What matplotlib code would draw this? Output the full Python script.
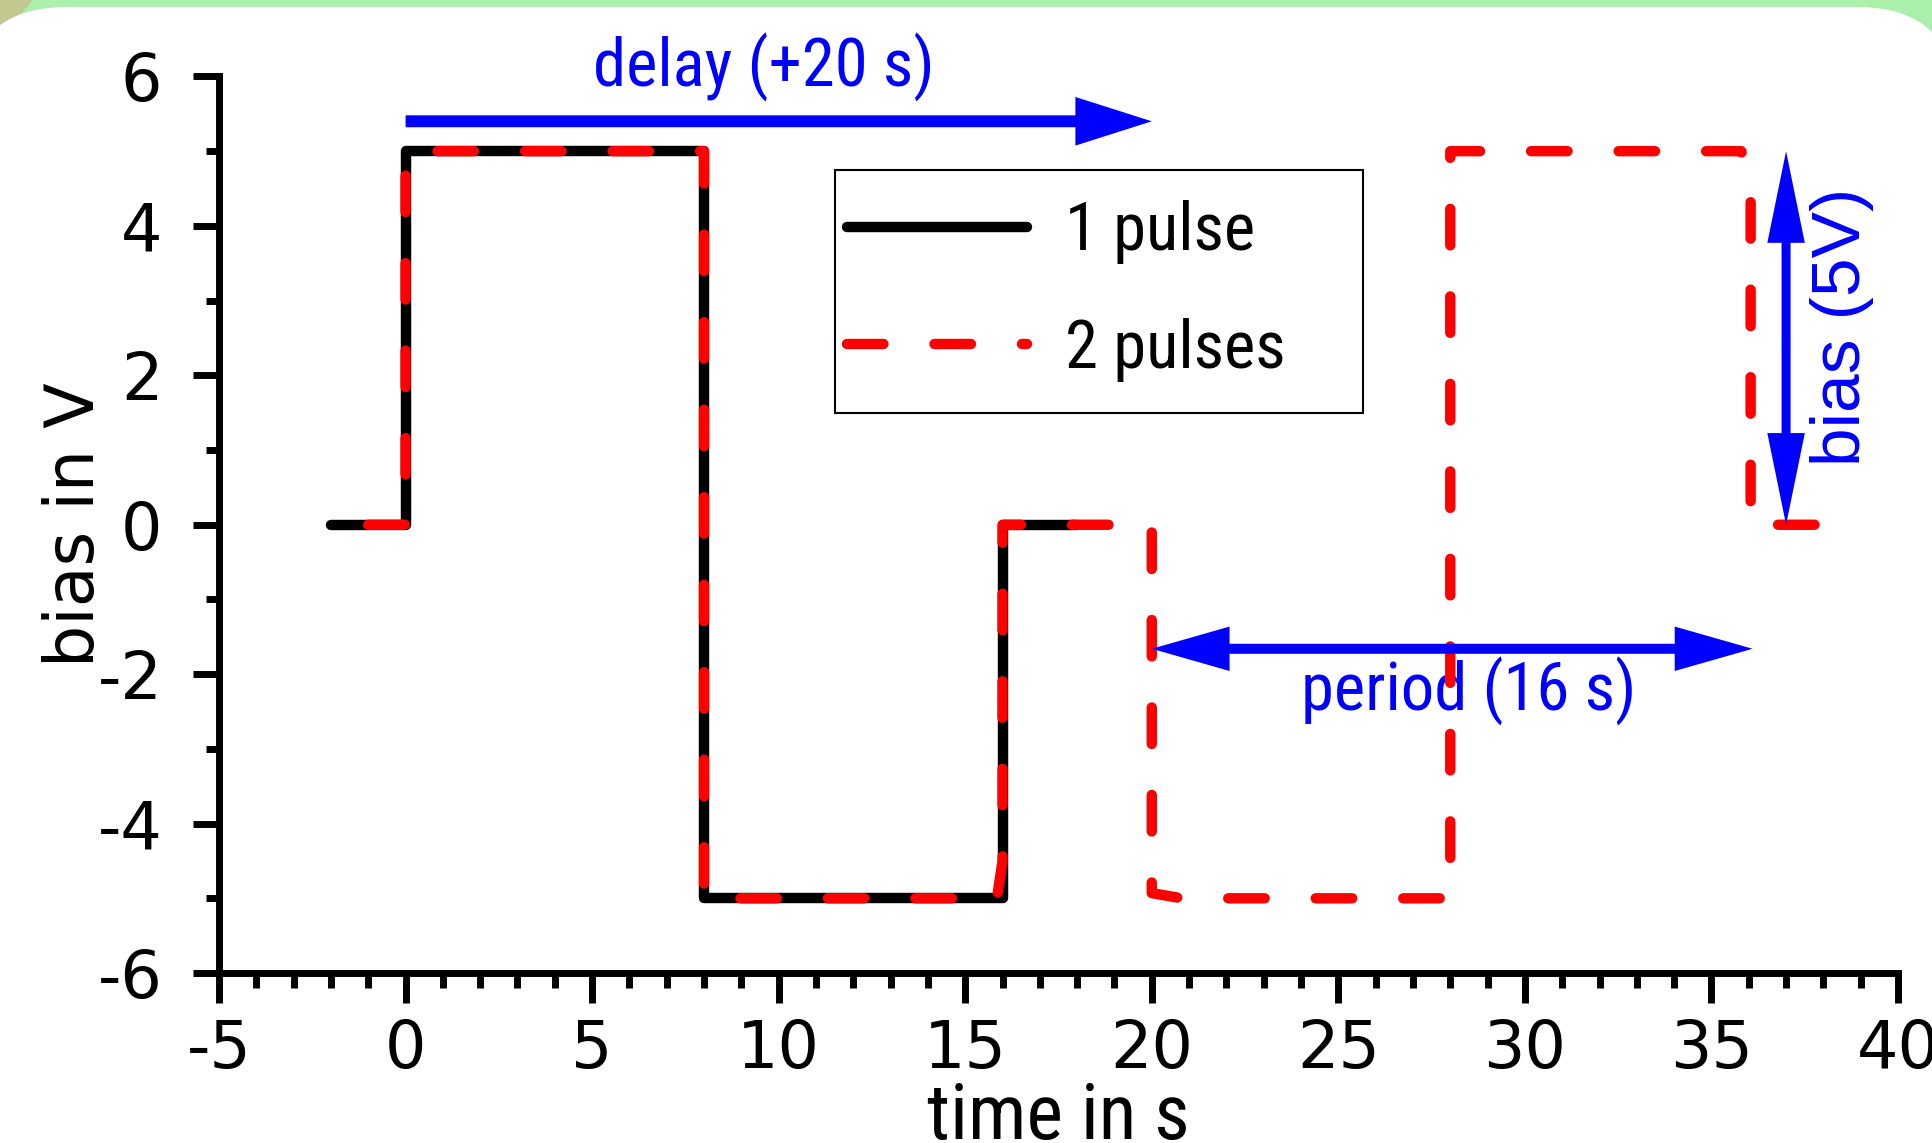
import matplotlib
matplotlib.use('Agg')
import matplotlib.pyplot as plt
from matplotlib.patches import FancyArrowPatch, FancyBboxPatch, Circle, Rectangle
from matplotlib.ticker import MultipleLocator

plt.rcParams['axes.unicode_minus'] = False

# 1 pulse: +5 V for 8 s, then -5 V for 8 s
t1 = [-2, 0, 0, 8, 8, 16, 16, 18]
v1 = [0, 0, 5, 5, -5, -5, 0, 0]

# 2 pulses: second (inverted) pulse starts 20 s later
t2 = [-1, 0, 0, 0.8, 8, 8, 15.85, 16, 16, 20, 20, 20.8, 28, 28, 35.8, 36.05, 36.05, 38]
v2 = [0, 0, 4.92, 5, 5, -5, -5, -4.5, 0, 0, -4.93, -5, -5, 5, 5, 4.55, 0, 0]

labels = ['1 pulse', '2 pulses']
xticks = [-5, 0, 5, 10, 15, 20, 25, 30, 35, 40]
yticks = [-6, -4, -2, 0, 2, 4, 6]

NARROW = ['Roboto Condensed', 'Liberation Sans', 'DejaVu Sans']
LW = 7.5

fig = plt.figure(figsize=(19.33, 11.43), dpi=100, facecolor='#aaefaa')
# page background: khaki corner + white rounded card
fig.add_artist(Circle((-0.6, 12.03), 1.1, transform=fig.dpi_scale_trans,
                      facecolor='#c2c890', edgecolor='none', zorder=-3))
fig.add_artist(FancyBboxPatch((-0.33, -1.0), 19.9, 12.36,
                              boxstyle='round,pad=0,rounding_size=1.0',
                              transform=fig.dpi_scale_trans,
                              facecolor='white', edgecolor='none', zorder=-2))

ax = fig.add_axes([0.1133, 0.1487, 0.8686, 0.7844])
ax.patch.set_visible(False)

ax.plot(t1, v1, color='black', lw=LW, solid_capstyle='round',
        solid_joinstyle='round', label=labels[0], zorder=3)
ax.plot(t2, v2, color='red', lw=LW, ls=(0, (3.5, 4.9)), dash_capstyle='round',
        dash_joinstyle='round', label=labels[1], zorder=4)

ax.set_xlim(-5, 40)
ax.set_ylim(-6, 6)
ax.set_xticks(xticks)
ax.set_yticks(yticks)
ax.xaxis.set_minor_locator(MultipleLocator(1))
ax.yaxis.set_minor_locator(MultipleLocator(1))

for s in ['top', 'right']:
    ax.spines[s].set_visible(False)
for s in ['left', 'bottom']:
    ax.spines[s].set_linewidth(5)

ax.tick_params(axis='x', which='major', length=21.6, width=5, pad=10.8, labelsize=47)
ax.tick_params(axis='x', which='minor', length=10.8, width=5)
ax.tick_params(axis='y', which='major', length=18.7, width=5, pad=22, labelsize=47)
ax.tick_params(axis='y', which='minor', length=9.1, width=5)

ax.set_xlabel('time in s', fontsize=56, family=NARROW)
ax.set_ylabel('bias in V', fontsize=48, family='DejaVu Sans')
ax.xaxis.set_label_coords(0.5, -0.1193)
ax.yaxis.set_label_coords(-0.0661, 0.5)

# legend: square box drawn separately, entries placed inside it
ax.add_patch(Rectangle((0.3669, 0.6246), 0.3145, 0.2710, transform=ax.transAxes,
                       facecolor='white', edgecolor='black', lw=1.5, zorder=6))
leg = ax.legend(loc='upper left', bbox_to_anchor=(0.374, 0.862), borderaxespad=0,
                prop=dict(family=NARROW, size=48), frameon=False,
                handlelength=2.7, handletextpad=0.57, labelspacing=0.8,
                borderpad=0)
leg.set_zorder(7)

# annotation arrows
def arrow(p0, p1, hl, hw, tw):
    a = FancyArrowPatch(p0, p1, arrowstyle='simple,head_length=%g,head_width=%g,tail_width=%g' % (hl, hw, tw),
                        mutation_scale=1, color='blue', lw=0, shrinkA=0, shrinkB=0, zorder=5)
    ax.add_patch(a)

arrow((0, 5.4), (20, 5.4), 55, 35, 8.6)
arrow((28, -1.66), (20, -1.66), 56, 32, 7.2)
arrow((28, -1.66), (36.1, -1.66), 56, 32, 7.2)
arrow((37, 2.5), (37, 5), 66, 27, 6.5)
arrow((37, 2.5), (37, 0), 66, 27, 6.5)

ax.text(9.6, 5.86, 'delay (+20 s)', ha='center', va='baseline', color='blue',
        fontsize=48, family=NARROW)
ax.text(28.5, -2.49, 'period (16 s)', ha='center', va='baseline', color='blue',
        fontsize=48, family=NARROW)
ax.text(38.5, 2.65, 'bias (5V)', rotation=90, ha='center', va='center', color='blue',
        fontsize=50, family=['Liberation Sans', 'DejaVu Sans'])

plt.savefig('out.png', dpi=100)
